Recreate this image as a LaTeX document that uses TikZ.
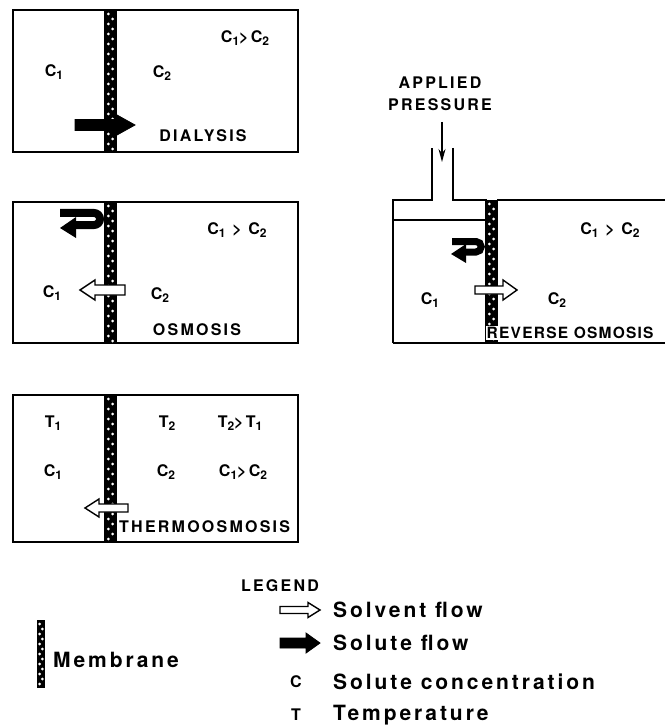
\documentclass[tikz,border=0pt]{standalone}
\usepackage{fontspec}
\setmainfont{TeX Gyre Heros}
\newfontfamily\letterfont{TeX Gyre Heros}[LetterSpace=14]
\newfontfamily\tightfont{TeX Gyre Heros}[LetterSpace=8]
\usetikzlibrary{arrows.meta}

\newcommand{\subfig}[1]{\raisebox{-0.35ex}{\fontsize{12}{12}\selectfont #1}}
\newcommand{\concsub}[1]{C\subfig{#1}}
\newcommand{\tempsub}[1]{T\subfig{#1}}

% membrane strip: x left, x right, y top, y bottom
\newcommand{\membrane}[4]{%
  \fill[black] (#1,#3) rectangle (#2,#4);
  \pgfmathtruncatemacro\dotcount{(#4-#3)/5-1}
  \foreach \k in {0,...,\dotcount}{
    \pgfmathsetmacro\dotx{#1+(#2-#1)*(mod(\k,2)==0 ? 0.33 : 0.67)}
    \fill[white] (\dotx,{#3+4+5*\k}) circle[radius=1.5pt];
  }}

% flow arrow: style, x tail, x tip, y, shaft half, head half, head length
\newcommand{\flowarrow}[7]{%
  \pgfmathsetmacro\headx{#3-sign(#3-#2)*#7}
  \draw[#1] (#2,{#4-#5}) -- (\headx,{#4-#5}) -- (\headx,{#4-#6}) -- (#3,#4)
    -- (\headx,{#4+#6}) -- (\headx,{#4+#5}) -- (#2,{#4+#5}) -- cycle;}

\tikzset{
  wall/.style={line width=1.6pt},
  solvent/.style={draw=black,fill=white,line width=1.4pt,line join=miter},
  solute/.style={draw=black,fill=black,line width=0.8pt},
  paneltext/.style={font=\letterfont\bfseries\fontsize{16}{18}\selectfont,inner sep=0pt},
  legendtext/.style={font=\letterfont\bfseries\fontsize{21}{24}\selectfont,inner sep=0pt,anchor=west},
}

\begin{document}
\begin{tikzpicture}[x=1pt,y=-1pt]
  \useasboundingbox (0,0) rectangle (665,727);

  % dialysis
  \draw[wall] (13,10) rectangle (298,152);
  \membrane{104}{117}{10}{152}
  \flowarrow{solute}{75}{135}{125}{5.5}{10}{18}
  \node[paneltext] (dc1) at (54,72) {\concsub{1}};
  \node[paneltext] (dc2) at (162,73) {\concsub{2}};
  \node[paneltext] (dcc) at (245,38) {\concsub{1}>\concsub{2}};
  \node[paneltext] (dialysis) at (203,136) {DIALYSIS};

  % osmosis
  \draw[wall] (13,202) rectangle (298,343);
  \membrane{104}{117}{202}{343}
  \draw[line width=8pt] (60,213) -- (94,213) arc[start angle=-90,end angle=90,radius=6] -- (74,225);
  \fill (76,217) -- (60,228) -- (76,238) -- cycle;
  \flowarrow{solvent}{125}{80}{290}{5}{10}{15}
  \node[paneltext] (oc1) at (52,293) {\concsub{1}};
  \node[paneltext] (oc2) at (160,295) {\concsub{2}};
  \node[paneltext] (occ) at (237,230) {\concsub{1} > \concsub{2}};
  \node[paneltext] (osmosis) at (197,330) {OSMOSIS};

  % thermoosmosis
  \draw[wall] (13,395) rectangle (298,542);
  \membrane{104}{117}{395}{542}
  \flowarrow{solvent}{128}{85}{508}{4}{9}{14}
  \node[paneltext] (tt1) at (53,423) {\tempsub{1}};
  \node[paneltext] (tc1) at (53,472) {\concsub{1}};
  \node[paneltext] (tt2) at (167,423) {\tempsub{2}};
  \node[paneltext] (ttt) at (240,423) {\tempsub{2}>\tempsub{1}};
  \node[paneltext] (tc2) at (166,472) {\concsub{2}};
  \node[paneltext] (tcc) at (243,472) {\concsub{1}>\concsub{2}};
  \node[paneltext,anchor=west] (thermo) at (119,527) {THERMOOSMOSIS};

  % reverse osmosis
  \draw[wall] (393,343) -- (393,200) -- (432,200) -- (432,148);
  \draw[wall] (453,148) -- (453,200) -- (487,200);
  \draw[wall] (393,220) -- (487,220);
  \draw[wall] (497,200) -- (665,200);
  \draw[wall] (393,343) -- (665,343);
  \membrane{485}{498}{200}{343}
  \draw[line width=7pt] (452,241.5) -- (476,241.5) arc[start angle=-90,end angle=90,radius=5.25] -- (464,252);
  \fill (466,244) -- (451,254) -- (466,263) -- cycle;
  \flowarrow{solvent}{475}{517}{290}{4}{10}{14}
  \node[paneltext] (rc1) at (430,300) {\concsub{1}};
  \node[paneltext] (rc2) at (557,300) {\concsub{2}};
  \node[paneltext] (rcc) at (610,230) {\concsub{1} > \concsub{2}};
  \node[paneltext,font=\tightfont\bfseries\fontsize{15.5}{18}\selectfont,anchor=west,fill=white,inner xsep=0.5pt,inner ysep=1pt] (reverse) at (486,333) {REVERSE OSMOSIS};
  \node[paneltext] (applied) at (440,83) {APPLIED};
  \node[paneltext] (pressure) at (440,105) {PRESSURE};
  \coordinate (pushtop) at (442,122);
  \coordinate (push) at (442,162);
  \draw[line width=1.2pt,-{Stealth[length=13pt,width=7pt]}] (pushtop) -- (push);

  % legend
  \node[paneltext] (legend) at (280,586) {LEGEND};
  \flowarrow{solvent}{280}{320}{610}{3.5}{7.5}{12}
  \node[legendtext] (solventkey) at (333,610) {Solvent flow};
  \flowarrow{solute}{280}{320}{643}{5}{10}{14}
  \node[legendtext] (solutekey) at (333,643) {Solute flow};
  \node[paneltext] (ckey) at (296,682) {C};
  \node[legendtext] (concentration) at (333,682) {Solute concentration};
  \node[paneltext] (tkey) at (296,715) {T};
  \node[legendtext] (temperature) at (333,715) {Temperature};
  \membrane{37}{45}{620}{688}
  \node[legendtext] (membranekey) at (53,660) {Membrane};
\end{tikzpicture}
\end{document}
